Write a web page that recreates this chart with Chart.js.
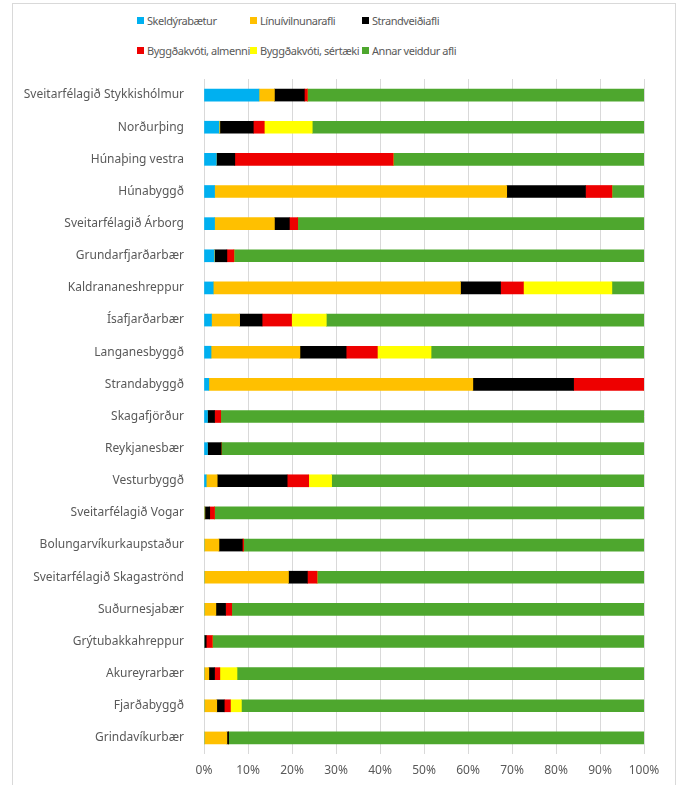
<!DOCTYPE html>
<html>
<head>
<meta charset="utf-8">
<script src="https://cdn.jsdelivr.net/npm/chart.js@4"></script>
<style>
  html, body { margin: 0; padding: 0; background: #fff; }
  #wrap { position: relative; width: 682px; height: 785px; overflow: hidden; }
  #frame { position: absolute; left: 12px; top: 3px; width: 664px; height: 800px; border: 1px solid #d9d9d9; box-sizing: border-box; }
  #legend { position: absolute; left: 137px; top: 11px; display: grid; grid-template-columns: 113px 112px 140px; grid-auto-rows: 30px; font-family: "Noto Sans", sans-serif; font-size: 11px; letter-spacing: -0.45px; color: #595959; }
  #legend span.item { display: flex; align-items: center; white-space: nowrap; height: 18px; overflow: visible; }
  #legend i { display: inline-block; flex-shrink: 0; width: 7px; height: 7px; margin-right: 3px; }
  canvas { position: absolute; left: 0; top: 0; }
</style>
</head>
<body>
<div id="wrap">
  <div id="frame"></div>
  <div id="legend"></div>
  <canvas id="chart" width="682" height="785"></canvas>
</div>
<script>
const categories = [
  "Sveitarfélagið Stykkishólmur", "Norðurþing", "Húnaþing vestra", "Húnabyggð",
  "Sveitarfélagið Árborg", "Grundarfjarðarbær", "Kaldrananeshreppur", "Ísafjarðarbær",
  "Langanesbyggð", "Strandabyggð", "Skagafjörður", "Reykjanesbær", "Vesturbyggð",
  "Sveitarfélagið Vogar", "Bolungarvíkurkaupstaður", "Sveitarfélagið Skagaströnd",
  "Suðurnesjabær", "Grýtubakkahreppur", "Akureyrarbær", "Fjarðabyggð", "Grindavíkurbær"
];

const skeldyrabaetur = [12.5, 3.4, 2.8, 2.4, 2.4, 2.3, 2.1, 1.7, 1.6, 1.1, 0.8, 0.8, 0.5, 0, 0, 0, 0, 0, 0, 0, 0];
const linuivilnunarafli = [3.5, 0.2, 0, 66.4, 13.6, 0.1, 56.2, 6.4, 20.2, 60.0, 0, 0, 2.5, 0.2, 3.4, 19.2, 2.7, 0, 1.1, 2.9, 5.2];
const strandveidiafli = [6.8, 7.6, 4.2, 17.9, 3.4, 2.8, 9.1, 5.1, 10.5, 22.9, 1.6, 3.1, 15.9, 1.1, 5.3, 4.3, 2.2, 0.5, 1.3, 1.7, 0.4];
const byggdakvotiAlmenni = [0.7, 2.5, 36.0, 6.0, 1.9, 1.6, 5.2, 6.7, 7.1, 16.0, 1.4, 0, 4.9, 1.1, 0.3, 2.2, 1.4, 1.4, 1.2, 1.4, 0];
const byggdakvotiSertaeki = [0, 10.9, 0, 0, 0, 0, 20.1, 7.9, 12.2, 0, 0, 0, 5.2, 0, 0, 0, 0, 0, 3.9, 2.5, 0];
const annarVeiddurAfli = [76.5, 75.4, 57.0, 7.3, 78.7, 93.2, 7.3, 72.2, 48.4, 0, 96.2, 96.1, 71.0, 97.6, 91.0, 74.3, 93.7, 98.1, 92.5, 91.5, 94.4];

const xTicks = [0, 10, 20, 30, 40, 50, 60, 70, 80, 90, 100];

const series = [
  { label: "Skeldýrabætur", data: skeldyrabaetur, color: "#00B0F0" },
  { label: "Línuívilnunarafli", data: linuivilnunarafli, color: "#FFC000" },
  { label: "Strandveiðiafli", data: strandveidiafli, color: "#000000" },
  { label: "Byggðakvóti, almenni", data: byggdakvotiAlmenni, color: "#EE0000" },
  { label: "Byggðakvóti, sértæki", data: byggdakvotiSertaeki, color: "#FFFF00" },
  { label: "Annar veiddur afli", data: annarVeiddurAfli, color: "#4EA72E" }
];

// legend laid out in fixed columns like the original
const legendEl = document.getElementById("legend");
series.forEach(s => {
  const item = document.createElement("span");
  item.className = "item";
  item.innerHTML = '<i style="background:' + s.color + '"></i>' + s.label;
  legendEl.appendChild(item);
});

const font = { family: "'Noto Sans', sans-serif", size: 12 };

new Chart(document.getElementById("chart"), {
  type: "bar",
  data: {
    labels: categories,
    datasets: series.map(s => ({
      label: s.label,
      data: s.data,
      backgroundColor: s.color,
      borderWidth: 0,
      barThickness: 12
    }))
  },
  options: {
    indexAxis: "y",
    responsive: false,
    animation: false,
    layout: { padding: { left: 0, top: 79, right: 38, bottom: 0 } },
    plugins: { legend: { display: false }, tooltip: { enabled: false } },
    scales: {
      x: {
        stacked: true,
        min: 0,
        max: 100,
        afterBuildTicks: axis => { axis.ticks = xTicks.map(v => ({ value: v })); },
        afterFit: axis => { axis.height = 31; },
        grid: { color: "#d9d9d9", drawTicks: false },
        border: { display: false },
        ticks: { padding: 9, color: "#595959", font: font, callback: v => v + "%" }
      },
      y: {
        stacked: true,
        afterFit: axis => { axis.width = 204; },
        grid: { display: false },
        border: { display: false },
        ticks: { padding: 12, color: "#595959", font: font, autoSkip: false }
      }
    }
  }
});
</script>
</body>
</html>
